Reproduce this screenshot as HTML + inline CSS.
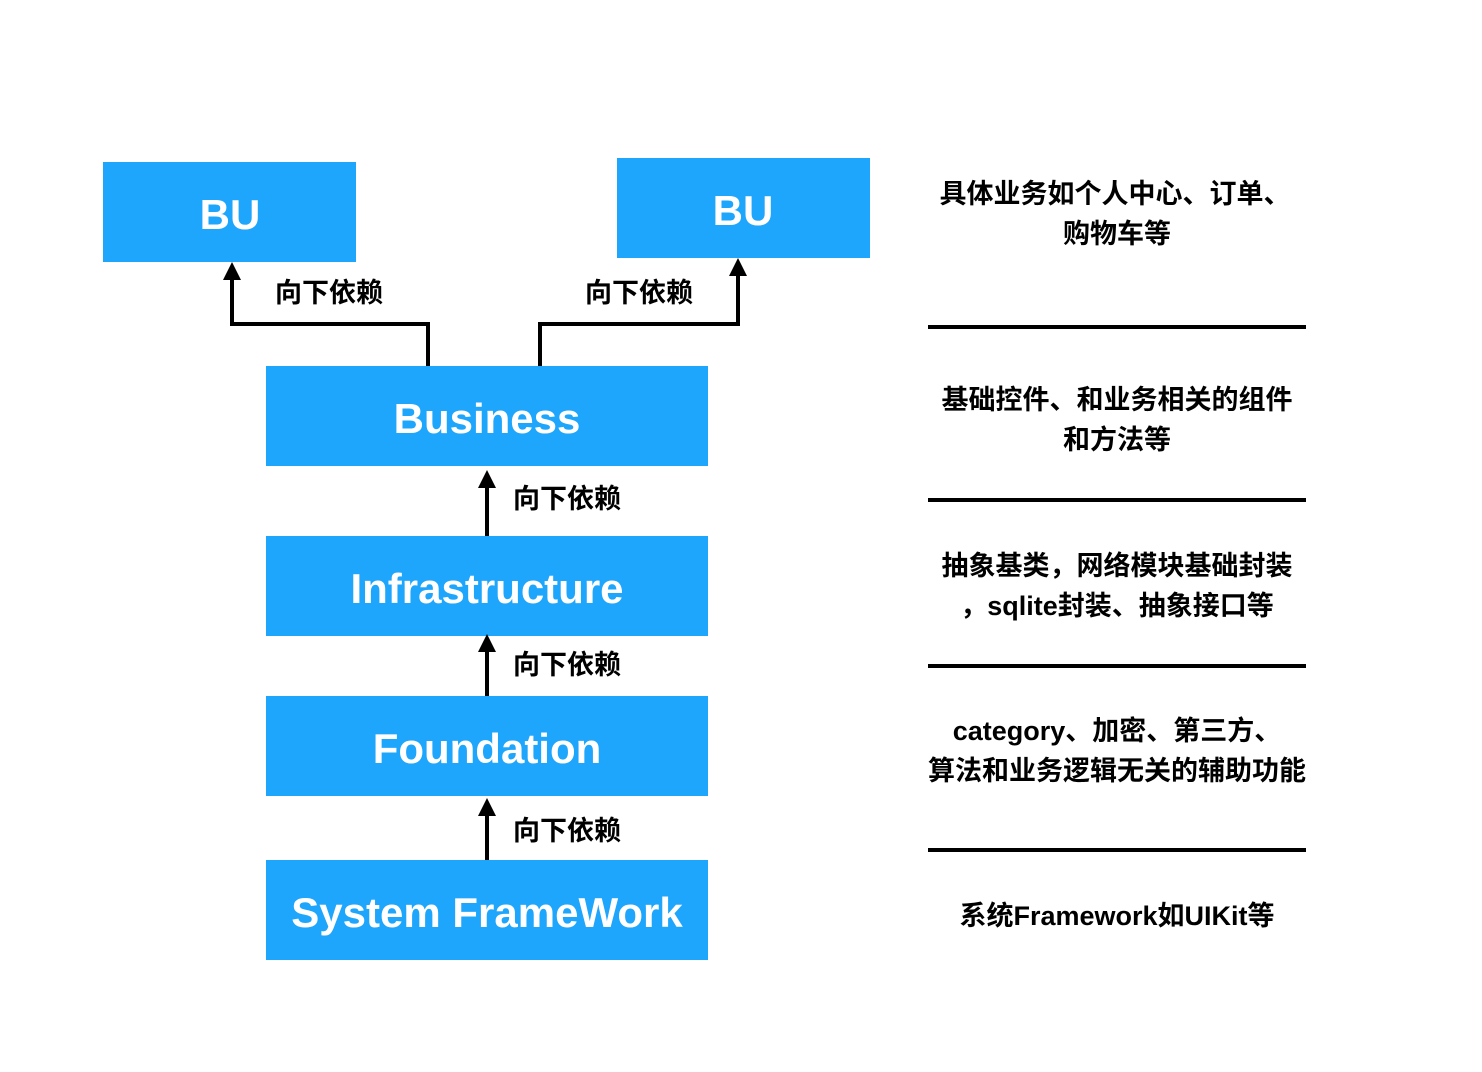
<!DOCTYPE html>
<html><head><meta charset="utf-8"><style>
html,body{margin:0;padding:0;background:#fff;}
svg{display:block;}
.b{font-family:"Liberation Sans","Noto Sans CJK SC",sans-serif;fill:#fff;font-size:42px;font-weight:bold;text-anchor:middle;}
.l{font-family:"Liberation Sans","Noto Sans CJK SC",sans-serif;fill:#000;font-size:27px;font-weight:bold;}
.r{font-family:"Liberation Sans","Noto Sans CJK SC",sans-serif;fill:#000;font-size:27px;font-weight:bold;text-anchor:middle;}
</style></head><body>
<svg width="1482" height="1072" viewBox="0 0 1482 1072" xmlns="http://www.w3.org/2000/svg">
<g fill="#1ea5fc">
<rect x="103" y="162" width="253" height="100"/>
<rect x="617" y="158" width="253" height="100"/>
<rect x="266" y="366" width="442" height="100"/>
<rect x="266" y="536" width="442" height="100"/>
<rect x="266" y="696" width="442" height="100"/>
<rect x="266" y="860" width="442" height="100"/>
</g>
<text class="b" x="230" y="229">BU</text>
<text class="b" x="743" y="225">BU</text>
<text class="b" x="487" y="433">Business</text>
<text class="b" x="487" y="603">Infrastructure</text>
<text class="b" x="487" y="763">Foundation</text>
<text class="b" x="487" y="927">System FrameWork</text>
<g stroke="#000" stroke-width="4" fill="none">
<polyline points="232,278 232,324 428,324 428,366"/>
<polyline points="540,366 540,324 738,324 738,274"/>
<line x1="487" y1="486" x2="487" y2="536"/>
<line x1="487" y1="652" x2="487" y2="696"/>
<line x1="487" y1="814" x2="487" y2="860"/>
</g>
<g fill="#000">
<polygon points="232,262 223,280 241,280"/>
<polygon points="738,258 729,276 747,276"/>
<polygon points="487,470 478,488 496,488"/>
<polygon points="487,634 478,652 496,652"/>
<polygon points="487,798 478,816 496,816"/>
</g>
<text class="l" x="275" y="302">向下依赖</text>
<text class="l" x="585" y="302">向下依赖</text>
<text class="l" x="513" y="508">向下依赖</text>
<text class="l" x="513" y="674">向下依赖</text>
<text class="l" x="513" y="840">向下依赖</text>
<g stroke="#000" stroke-width="4">
<line x1="928" y1="327" x2="1306" y2="327"/>
<line x1="928" y1="500" x2="1306" y2="500"/>
<line x1="928" y1="666" x2="1306" y2="666"/>
<line x1="928" y1="850" x2="1306" y2="850"/>
</g>
<text class="r" x="1115" y="203">具体业务如个人中心、订单、</text>
<text class="r" x="1117" y="243">购物车等</text>
<text class="r" x="1117" y="409">基础控件、和业务相关的组件</text>
<text class="r" x="1117" y="449">和方法等</text>
<text class="r" x="1117" y="575">抽象基类，网络模块基础封装</text>
<text class="r" x="1117" y="615">，sqlite封装、抽象接口等</text>
<text class="r" x="1117" y="740">category、加密、第三方、</text>
<text class="r" x="1117" y="780">算法和业务逻辑无关的辅助功能</text>
<text class="r" x="1117" y="925">系统Framework如UIKit等</text>
</svg>
</body></html>
